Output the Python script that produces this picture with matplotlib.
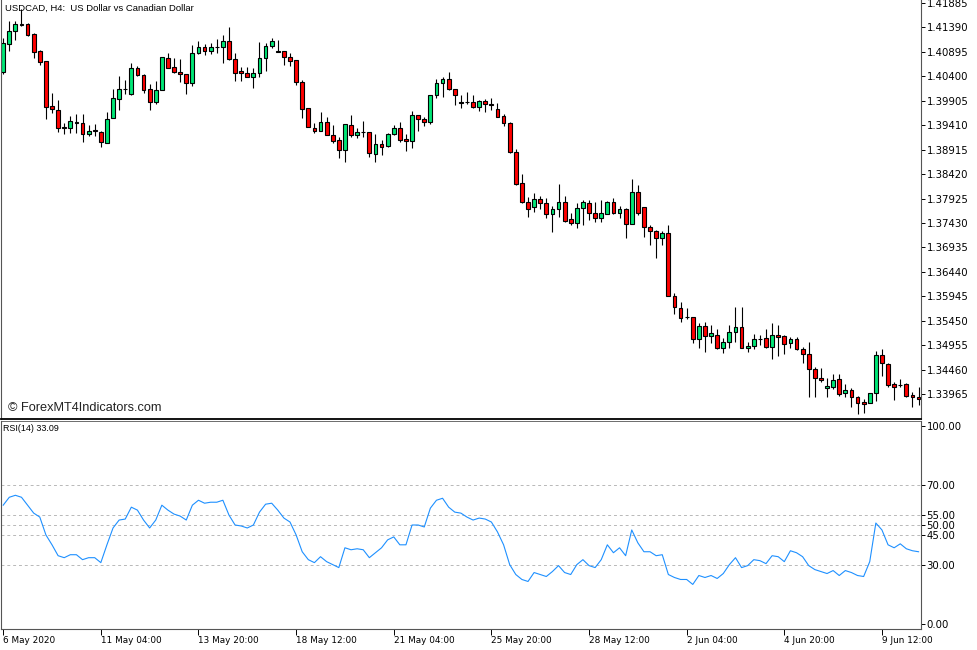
import matplotlib
matplotlib.use("Agg")
import matplotlib.pyplot as plt
import numpy as np

# USDCAD H4 candles (open, high, low, close)
opens = [1.40488, 1.41055, 1.41318, 1.41440, 1.41460, 1.41258, 1.40913, 1.40711, 1.39799, 1.39718,
         1.39374, 1.39354, 1.39475, 1.39455, 1.39233, 1.39314, 1.39273, 1.39050, 1.39556, 1.39941,
         1.40144, 1.40042, 1.40569, 1.40427, 1.40144, 1.39880, 1.40124, 1.40772, 1.40589, 1.40488,
         1.40447, 1.40265, 1.40873, 1.40994, 1.40913, 1.40994, 1.40994, 1.41116, 1.40751, 1.40508,
         1.40468, 1.40387, 1.40468, 1.40772, 1.41015, 1.40913, 1.40913, 1.40792, 1.40731, 1.40286,
         1.39759, 1.39354, 1.39293, 1.39475, 1.39212, 1.39111, 1.38908, 1.39415, 1.39212, 1.39273,
         1.39273, 1.38828, 1.39030, 1.38990, 1.39233, 1.39354, 1.39131, 1.39091, 1.39617, 1.39536,
         1.39475, 1.40022, 1.40265, 1.40346, 1.40144, 1.39880, 1.39880, 1.39880, 1.39779, 1.39901,
         1.39840, 1.39739, 1.39597, 1.39455, 1.38868, 1.38240, 1.37856, 1.37754, 1.37916, 1.37835,
         1.37612, 1.37714, 1.37856, 1.37511, 1.37430, 1.37734, 1.37835, 1.37633, 1.37532, 1.37612,
         1.37856, 1.37633, 1.37714, 1.37410, 1.38058, 1.37754, 1.37349, 1.37268, 1.37127, 1.37228,
         1.35952, 1.35709, 1.35527, 1.35527, 1.35082, 1.35345, 1.35142, 1.35162, 1.34899, 1.35021,
         1.35223, 1.35325, 1.34899, 1.34939, 1.35082, 1.35102, 1.34919, 1.35162, 1.35142, 1.35000,
         1.35082, 1.34879, 1.34777, 1.34474, 1.34291, 1.34089, 1.34109, 1.34271, 1.33988, 1.34049,
         1.33907, 1.33805, 1.33785, 1.33988, 1.34757, 1.34575, 1.34170, 1.34150, 1.34170, 1.33947,
         1.33907]
highs = [1.41176, 1.41521, 1.41521, 1.41764, 1.41480, 1.41278, 1.40934, 1.40711, 1.40063, 1.39921,
         1.39455, 1.39597, 1.39638, 1.39638, 1.39415, 1.39435, 1.39293, 1.39678, 1.40144, 1.40407,
         1.40326, 1.40670, 1.40610, 1.40447, 1.40245, 1.40306, 1.40800, 1.40873, 1.40772, 1.40751,
         1.40455, 1.41035, 1.41116, 1.41055, 1.41075, 1.41156, 1.41237, 1.41399, 1.40873, 1.40589,
         1.40589, 1.40569, 1.41096, 1.41075, 1.41176, 1.41136, 1.40920, 1.40873, 1.40740, 1.40326,
         1.39765, 1.39455, 1.39678, 1.39577, 1.39415, 1.39172, 1.39440, 1.39617, 1.39354, 1.39496,
         1.39280, 1.39233, 1.39111, 1.39253, 1.39415, 1.39475, 1.39233, 1.39698, 1.39625, 1.39577,
         1.40030, 1.40346, 1.40387, 1.40488, 1.40150, 1.40022, 1.40083, 1.40022, 1.39921, 1.39941,
         1.39962, 1.39860, 1.39638, 1.39475, 1.38929, 1.38422, 1.37957, 1.38038, 1.37977, 1.37937,
         1.37775, 1.38220, 1.37977, 1.37633, 1.37835, 1.37896, 1.37896, 1.37856, 1.37896, 1.37866,
         1.37937, 1.37775, 1.37734, 1.38321, 1.38200, 1.37760, 1.37390, 1.37289, 1.37268, 1.37390,
         1.36013, 1.35831, 1.35709, 1.35530, 1.35406, 1.35426, 1.35365, 1.35284, 1.35102, 1.35365,
         1.35729, 1.35729, 1.35021, 1.35182, 1.35162, 1.35284, 1.35406, 1.35365, 1.35162, 1.35122,
         1.35122, 1.34919, 1.35021, 1.34514, 1.34494, 1.34291, 1.34373, 1.34373, 1.34170, 1.34089,
         1.33927, 1.33866, 1.33995, 1.34838, 1.34879, 1.34595, 1.34211, 1.34271, 1.34190, 1.34008,
         1.34109]
lows = [1.40447, 1.40913, 1.41136, 1.41420, 1.41217, 1.40772, 1.40630, 1.39536, 1.39658, 1.39273,
        1.39233, 1.39253, 1.39253, 1.39070, 1.39192, 1.39192, 1.38969, 1.39050, 1.39556, 1.39718,
        1.40042, 1.40022, 1.40407, 1.40063, 1.39718, 1.39840, 1.40115, 1.40560, 1.40468, 1.40286,
        1.40042, 1.40205, 1.40853, 1.40832, 1.40853, 1.40873, 1.40670, 1.40740, 1.40306, 1.40306,
        1.40380, 1.40164, 1.40380, 1.40508, 1.40974, 1.40893, 1.40630, 1.40610, 1.40225, 1.39556,
        1.39370, 1.39253, 1.39285, 1.39205, 1.39050, 1.38747, 1.38666, 1.39172, 1.39152, 1.39172,
        1.38767, 1.38666, 1.38807, 1.38969, 1.39212, 1.39070, 1.38888, 1.38949, 1.39293, 1.39395,
        1.39435, 1.39962, 1.39982, 1.40124, 1.39820, 1.39759, 1.39840, 1.39759, 1.39698, 1.39678,
        1.39718, 1.39570, 1.39395, 1.38848, 1.38200, 1.37835, 1.37552, 1.37653, 1.37714, 1.37532,
        1.37248, 1.37552, 1.37451, 1.37390, 1.37329, 1.37390, 1.37491, 1.37451, 1.37451, 1.37605,
        1.37612, 1.37532, 1.37127, 1.37400, 1.37592, 1.37147, 1.36985, 1.36721, 1.36985, 1.35945,
        1.35588, 1.35426, 1.35487, 1.35000, 1.34899, 1.34818, 1.35000, 1.34879, 1.34798, 1.34899,
        1.35021, 1.34890, 1.34818, 1.34879, 1.34960, 1.34899, 1.34676, 1.34737, 1.34777, 1.34899,
        1.34858, 1.34595, 1.33907, 1.33907, 1.34211, 1.33907, 1.34069, 1.33927, 1.33907, 1.33704,
        1.33562, 1.33583, 1.33778, 1.33826, 1.34332, 1.34109, 1.33846, 1.34109, 1.33907, 1.33704,
        1.33745]
closes = [1.41075, 1.41318, 1.41460, 1.41460, 1.41237, 1.40893, 1.40690, 1.39779, 1.39739, 1.39354,
          1.39364, 1.39496, 1.39455, 1.39233, 1.39293, 1.39293, 1.39070, 1.39536, 1.39962, 1.40144,
          1.40134, 1.40569, 1.40427, 1.40124, 1.39880, 1.40124, 1.40792, 1.40569, 1.40488, 1.40447,
          1.40265, 1.40873, 1.40994, 1.40913, 1.40994, 1.41004, 1.41116, 1.40751, 1.40468, 1.40468,
          1.40387, 1.40468, 1.40772, 1.41015, 1.41116, 1.40903, 1.40792, 1.40711, 1.40286, 1.39739,
          1.39374, 1.39293, 1.39475, 1.39212, 1.39091, 1.38908, 1.39435, 1.39212, 1.39273, 1.39263,
          1.38848, 1.39030, 1.38969, 1.39233, 1.39354, 1.39111, 1.39091, 1.39617, 1.39536, 1.39475,
          1.40022, 1.40265, 1.40346, 1.40144, 1.40022, 1.39870, 1.39890, 1.39779, 1.39901, 1.39840,
          1.39820, 1.39577, 1.39455, 1.38868, 1.38220, 1.37856, 1.37714, 1.37916, 1.37835, 1.37612,
          1.37714, 1.37856, 1.37471, 1.37430, 1.37734, 1.37856, 1.37633, 1.37532, 1.37633, 1.37856,
          1.37633, 1.37714, 1.37410, 1.38058, 1.37633, 1.37349, 1.37268, 1.37127, 1.37228, 1.35952,
          1.35729, 1.35507, 1.35517, 1.35082, 1.35345, 1.35142, 1.35203, 1.34899, 1.35021, 1.35223,
          1.35325, 1.34899, 1.34939, 1.35082, 1.35072, 1.34919, 1.35162, 1.35122, 1.34980, 1.35082,
          1.34879, 1.34777, 1.34474, 1.34291, 1.34251, 1.34130, 1.34251, 1.33968, 1.34049, 1.33907,
          1.33785, 1.33765, 1.33988, 1.34757, 1.34595, 1.34150, 1.34109, 1.34140, 1.33927, 1.33907,
          1.33866]

# RSI(14) line as it appears in the sub-window
rsi = [60, 64, 65, 64, 60, 56, 54, 45, 40, 34.5,
       33.5, 35, 35, 32.5, 33.5, 33.5, 31, 40, 48.5, 52.5,
       53, 59, 57.5, 52.5, 48.5, 52.5, 60, 57.5, 55.5, 54.5,
       52.5, 60, 62.5, 61, 61.5, 61.5, 62.5, 55, 50, 49.5,
       48.5, 50, 56.5, 60.5, 61, 57.5, 53.5, 51.5, 45, 36.5,
       32.5, 31, 34, 31.5, 30, 28.5, 38.5, 37.5, 38, 37.5,
       33.5, 36, 38.5, 42.5, 44, 40, 40, 50, 50, 49,
       58.5, 62.5, 63.5, 59, 56.5, 56, 54, 52.5, 53.5, 53,
       51.5, 46.5, 40, 30, 25, 22.5, 21.5, 26, 25, 24,
       26.5, 29.5, 26, 25, 30, 32.5, 29.5, 28.5, 32.5, 40,
       36, 38.5, 34.5, 47.5, 41, 36.5, 36.5, 34.5, 35, 25,
       23.5, 22.5, 22.5, 20, 24.5, 23.5, 24.5, 23, 25.5, 30,
       33.5, 28.5, 29.5, 32.5, 32, 30.5, 34.5, 34, 31.5, 37,
       36, 34, 29.5, 27.5, 26.5, 25.5, 27, 24.5, 27, 26,
       24.5, 24, 31.5, 51, 47.5, 40, 38.5, 40.5, 38, 37,
       36.5]
rsi_levels = [70, 55, 50, 45, 30]
rsi_ticks = [100, 70, 55, 50, 45, 30, 0]

price_ticks = [1.41885, 1.41390, 1.40895, 1.40400, 1.39905, 1.39410, 1.38915, 1.38420, 1.37925,
               1.37430, 1.36935, 1.36440, 1.35945, 1.35450, 1.34955, 1.34460, 1.33965]

date_pos = [0, 16, 32, 48, 64, 80, 96, 112, 128, 144]
date_labels = ["6 May 2020", "11 May 04:00", "13 May 20:00", "18 May 12:00", "21 May 04:00",
               "25 May 20:00", "28 May 12:00", "2 Jun 04:00", "4 Jun 20:00", "9 Jun 12:00"]

UP = "#00e676"
DOWN = "#ff0000"

o = np.array(opens)
h = np.array(highs)
l = np.array(lows)
c = np.array(closes)
x = np.arange(len(o))

W, H = 977, 650
fig = plt.figure(figsize=(W / 100, H / 100), dpi=100)
ax = fig.add_axes([0.5 / W, 1 - 419 / H, 920.5 / W, 419 / H])
axr = fig.add_axes([0.5 / W, 21 / H, 920.5 / W, 208 / H], sharex=ax)

# candles
ax.vlines(x, l, h, color="black", linewidth=0.8, zorder=1)
cols = np.where(c > o, UP, DOWN)
cols = np.where(np.abs(c - o) < 0.00012, "black", cols)
ax.bar(x, np.abs(c - o), bottom=np.minimum(o, c), width=0.62, color=cols,
       edgecolor="black", linewidth=0.8, zorder=2)

ax.set_xlim(-0.44, 150.4)
ax.set_ylim(1.33461, 1.41946)
ax.yaxis.tick_right()
ax.set_yticks(price_ticks)
ax.set_yticklabels([f"{v:.5f}" for v in price_ticks])
ax.tick_params(axis="y", length=3, width=0.7, pad=1, labelsize=7.3, colors="black")
ax.tick_params(axis="x", bottom=False, labelbottom=False)
ax.spines["top"].set_visible(False)
ax.spines["bottom"].set_linewidth(1.3)
ax.spines["left"].set_color("#555555")
ax.spines["right"].set_color("#555555")

ax.text(0.005, 0.992, "USDCAD, H4:  US Dollar vs Canadian Dollar", transform=ax.transAxes,
        ha="left", va="top", fontsize=6.8, family="Liberation Sans")
ax.text(0.008, 0.012, "\u00a9 ForexMT4Indicators.com", transform=ax.transAxes,
        ha="left", va="bottom", fontsize=9.2, family="Liberation Sans", color="#222222")

# RSI window
for lv in rsi_levels:
    axr.axhline(lv, color="#b8b8b8", linestyle=(0, (3, 3)), linewidth=0.7, zorder=1)
axr.plot(x, rsi, color="#1e90ff", linewidth=0.8, zorder=2)
axr.set_ylim(-2.5, 102.5)
axr.yaxis.tick_right()
axr.set_yticks(rsi_ticks)
axr.set_yticklabels([f"{v:.2f}" for v in rsi_ticks])
axr.tick_params(axis="y", length=3, width=0.7, pad=1, labelsize=7.3)
axr.set_xticks(date_pos)
axr.set_xticklabels(date_labels)
for t in axr.get_xticklabels():
    t.set_ha("left")
axr.tick_params(axis="x", length=4, width=0.7, pad=1, labelsize=6.4)
axr.spines["top"].set_color("#555555")
axr.spines["top"].set_linewidth(0.6)
axr.spines["left"].set_color("#555555")
axr.spines["right"].set_color("#555555")
axr.spines["bottom"].set_color("#555555")
axr.text(0.003, 0.985, "RSI(14) 33.09", transform=axr.transAxes, ha="left", va="top",
         fontsize=6.4, family="Liberation Sans")

fig.savefig("out.png", dpi=100)
